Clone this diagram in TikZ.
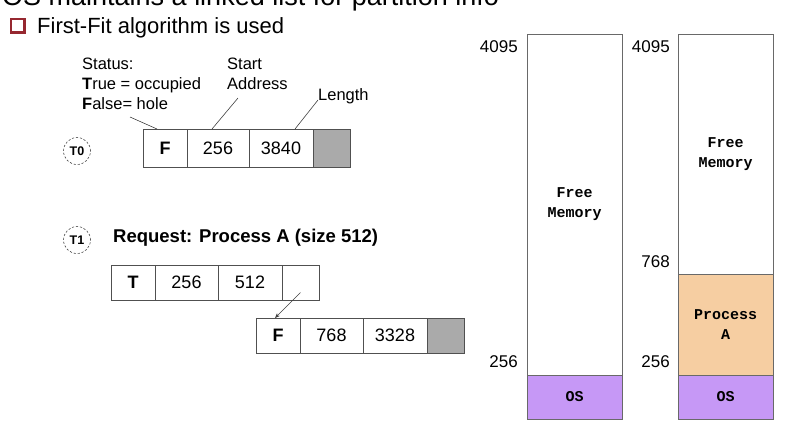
\documentclass[tikz,border=0pt]{standalone}
\usepackage{fontspec}
\setmainfont{Liberation Sans}
\setmonofont{Liberation Mono}
\usetikzlibrary{positioning, calc, arrows.meta}
\definecolor{cellline}{RGB}{80,80,80}
\definecolor{memline}{RGB}{105,105,105}
\definecolor{holegray}{RGB}{170,170,170}
\definecolor{ospurple}{RGB}{198,152,246}
\definecolor{procorange}{RGB}{246,206,162}
\definecolor{bulletred}{RGB}{150,40,48}

\tikzset{
  cell/.style={draw=cellline, line width=0.9pt, fill=white, inner sep=0pt, outer sep=0pt,
    font=\fontsize{18}{20}\selectfont},
  label/.style={inner sep=0pt, align=left, font=\fontsize{16.5}{20}\selectfont},
  leader/.style={draw=black!75, line width=0.6pt},
  tmark/.style={circle, draw=black!70, dash pattern=on 2.2pt off 1.8pt, line width=0.6pt,
    minimum size=27pt, inner sep=0pt, font=\bfseries\fontsize{12.5}{13}\selectfont},
  memblock/.style={draw=memline, line width=1pt, inner sep=0pt, outer sep=0pt,
    minimum width=95pt, align=center, font=\ttfamily\bfseries\fontsize{15}{20}\selectfont},
  addr/.style={inner sep=0pt, anchor=east, font=\fontsize{17}{20}\selectfont}
}

\begin{document}
\begin{tikzpicture}[x=1pt, y=-1pt]
  \useasboundingbox (0,0) rectangle (808,432);

  \node[anchor=base west, inner sep=0pt, font=\fontsize{27}{30}\selectfont] (title) at (2,5)
    {OS maintains a linked list for partition info};
  \fill[bulletred] (10,18) rectangle (26,34);
  \fill[white] (12,20) rectangle (22.5,30.5);
  \node[anchor=base west, inner sep=0pt, font=\fontsize{22}{26}\selectfont] (bullet) at (37,33)
    {First-Fit algorithm is used};

  \node[label, anchor=north west] (status) at (82,58)
    {Status:\\\textbf{T}rue = occupied\\\textbf{F}alse= hole};
  \node[label, anchor=north west] (start) at (227,58) {Start\\Address};
  \node[label, anchor=north west] (length) at (318,88) {Length};

  % T0 list
  \node[tmark] (t0) at (77,151) {T0};
  \foreach \x/\w/\t [count=\i] in {143/44/\textbf{F},187/62/256,249/64/3840,313/37/{}}{
    \ifnum\i=4
      \node[cell, fill=holegray, minimum width=\w, minimum height=38] (t0c\i) at (\x+\w/2,148) {\t};
    \else
      \node[cell, minimum width=\w, minimum height=38] (t0c\i) at (\x+\w/2,148) {\t};
    \fi
  }
  \coordinate (lstat) at (130,117);
  \coordinate (lstart) at (238,98);
  \coordinate (llen) at (318,100);
  \draw[leader] (lstat) -- ([xshift=-8pt]t0c1.north);
  \draw[leader] (lstart) -- ([xshift=-6pt]t0c2.north);
  \draw[leader] (llen) -- ([xshift=14pt]t0c3.north);

  % T1 lists
  \node[tmark] (t1) at (77,240) {T1};
  \node[anchor=west, inner sep=0pt, font=\bfseries\fontsize{18.5}{22}\selectfont] (req) at (113,238)
    {Request: Process A (size 512)};
  \foreach \x/\w/\t [count=\i] in {111/44/\textbf{T},155/63/256,218/64/512,282/37/{}}{
    \node[cell, minimum width=\w, minimum height=35] (t1a\i) at (\x+\w/2,282.5) {\t};
  }
  \foreach \x/\w/\t [count=\i] in {256/44/\textbf{F},300/63/768,363/64/3328,427/37/{}}{
    \ifnum\i=4
      \node[cell, fill=holegray, minimum width=\w, minimum height=35] (t1b\i) at (\x+\w/2,335.5) {\t};
    \else
      \node[cell, minimum width=\w, minimum height=35] (t1b\i) at (\x+\w/2,335.5) {\t};
    \fi
  }
  \coordinate (nxt) at ([yshift=-10pt]t1a4.center);
  \draw[leader, -{Stealth[length=5pt, width=4pt]}] (nxt) -- ([xshift=-3pt]t1b1.north);

  % memory before
  \node[memblock, fill=white, minimum height=341] (free1) at (574.5,204.5) {Free\\Memory};
  \node[memblock, fill=ospurple, minimum height=44] (os1) at (574.5,397) {OS};
  \node[addr] (top1) at (518,47) {4095};
  \node[addr] (low1) at (518,362) {256};

  % memory after
  \node[memblock, fill=white, minimum height=240] (free2) at (725.5,154) {Free\\Memory};
  \node[memblock, fill=procorange, minimum height=101] (proca) at (725.5,324.5) {Process\\A};
  \node[memblock, fill=ospurple, minimum height=44] (os2) at (725.5,397) {OS};
  \node[addr] (top2) at (670,47) {4095};
  \node[addr] (mid2) at (670,262) {768};
  \node[addr] (low2) at (670,362) {256};
\end{tikzpicture}
\end{document}
